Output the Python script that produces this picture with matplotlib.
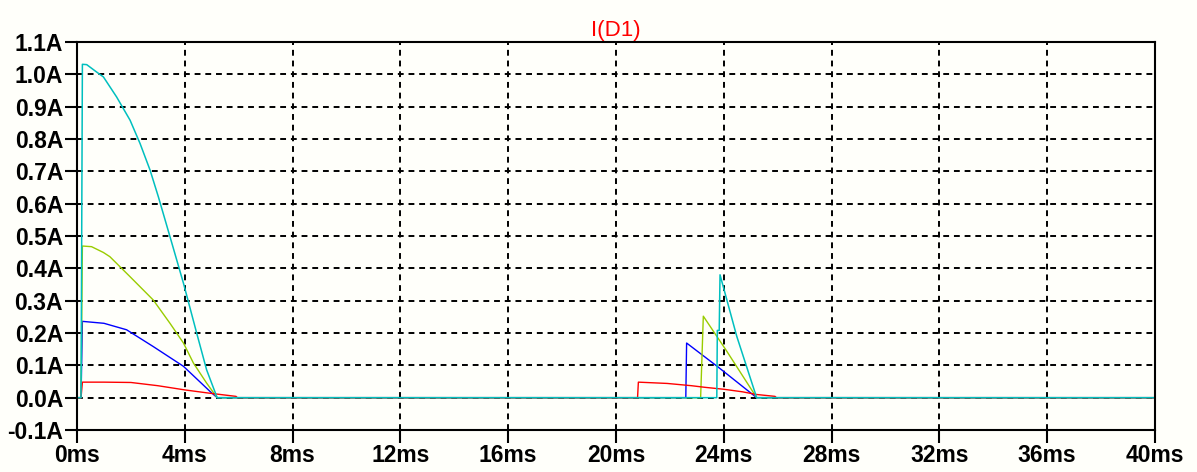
import matplotlib
matplotlib.use("Agg")
import matplotlib.pyplot as plt

# ---- data (time in ms, current in A) ----
t_red = [0, 0.15, 0.2, 1.0, 2.0, 3.0, 4.0, 4.9, 5.5, 5.9, 5.95,
         20.8, 20.83, 21.9, 22.8, 23.3, 24.0, 24.7, 25.2, 25.9, 25.95, 40]
i_red = [0, 0, 0.048, 0.048, 0.047, 0.037, 0.024, 0.014, 0.008, 0.004, 0,
         0, 0.048, 0.044, 0.037, 0.032, 0.026, 0.018, 0.010, 0.004, 0, 0]

t_blue = [0, 0.15, 0.2, 1.0, 1.84, 2.83, 3.95, 4.94, 5.2,
          22.59, 22.62, 23.8, 25.22, 40]
i_blue = [0, 0, 0.236, 0.23, 0.21, 0.158, 0.097, 0.019, 0,
          0, 0.169, 0.094, 0, 0]

t_green = [0, 0.15, 0.2, 0.54, 0.98, 1.22, 1.97, 2.83, 3.45, 3.95, 4.32, 4.81, 5.2,
           23.14, 23.24, 24.1, 25.22, 40]
i_green = [0, 0, 0.469, 0.467, 0.449, 0.436, 0.374, 0.302, 0.23, 0.169, 0.107, 0.045, 0,
           0, 0.252, 0.145, 0, 0]

t_cyan = [0, 0.15, 0.2, 0.36, 0.73, 0.98, 1.47, 1.97, 2.34, 2.71, 3.02, 3.45,
          3.95, 4.44, 4.81, 5.2, 23.74, 23.76, 23.83, 23.86, 24.48, 25.22, 40]
i_cyan = [0, 0, 1.031, 1.03, 1.007, 0.992, 0.93, 0.858, 0.786, 0.704, 0.621, 0.498,
          0.354, 0.2, 0.086, 0, 0, 0.208, 0.208, 0.38, 0.19, 0, 0]

x_ticks = [0, 4, 8, 12, 16, 20, 24, 28, 32, 36, 40]
x_labels = ["0ms", "4ms", "8ms", "12ms", "16ms", "20ms", "24ms", "28ms", "32ms", "36ms", "40ms"]
y_ticks = [-0.1, 0.0, 0.1, 0.2, 0.3, 0.4, 0.5, 0.6, 0.7, 0.8, 0.9, 1.0, 1.1]
y_labels = ["-0.1A", "0.0A", "0.1A", "0.2A", "0.3A", "0.4A", "0.5A", "0.6A",
            "0.7A", "0.8A", "0.9A", "1.0A", "1.1A"]

bg = "#fffffa"
fig = plt.figure(figsize=(11.97, 4.72), dpi=100, facecolor=bg)
ax = fig.add_axes([77 / 1197, 1 - 430 / 472, (1155 - 77) / 1197, (430 - 42) / 472])
ax.set_facecolor(bg)

ax.plot(t_blue, i_blue, color="#0000ff", lw=1.0)
ax.plot(t_green, i_green, color="#99cc00", lw=1.0)
ax.plot(t_red, i_red, color="#ff0000", lw=1.0)
ax.plot(t_cyan, i_cyan, color="#00bfbf", lw=1.1)

ax.set_xlim(0, 40)
ax.set_ylim(-0.1, 1.1)

lab_font = {"family": "Liberation Sans", "weight": "bold", "size": 16.5}
ax.set_xticks(x_ticks)
ax.set_xticklabels(x_labels, fontdict=lab_font)
ax.set_yticks(y_ticks)
ax.set_yticklabels(y_labels, fontdict=lab_font)
ax.tick_params(direction="out", length=9, width=1.5, pad=1, colors="black")

for s in ax.spines.values():
    s.set_linewidth(1.5)
    s.set_color("black")

ax.grid(True, color="black", linestyle=(0, (3, 2.5)), linewidth=1.4)
ax.set_axisbelow(True)

ax.set_title("I(D1)", color="#ff0000", fontsize=16, family="Liberation Sans", pad=4)

fig.savefig("out.png", dpi=100, facecolor=bg)
